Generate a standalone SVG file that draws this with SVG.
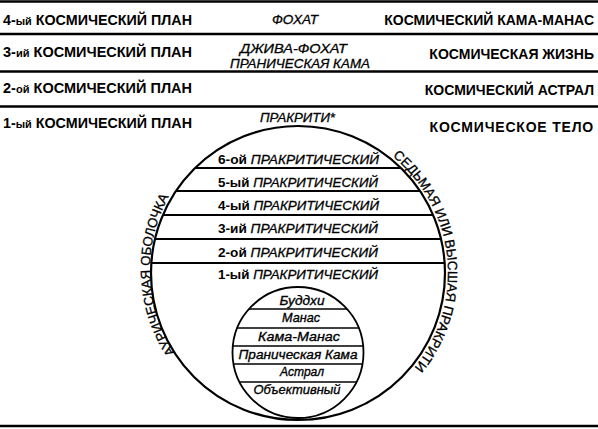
<svg xmlns="http://www.w3.org/2000/svg" width="598" height="429" viewBox="0 0 598 429">
<style>
.lbl{font-family:"Liberation Sans",Arial,sans-serif;font-size:15px;font-weight:bold;fill:#000}
.rl{font-family:"Liberation Sans",Arial,sans-serif;font-size:14px;font-weight:bold;fill:#000;text-anchor:end}
.sm{font-size:11.5px}
.it{font-family:"Liberation Sans",Arial,sans-serif;font-style:italic;font-size:13px;fill:#000;stroke:#000;stroke-width:0.3}
.band{font-family:"Liberation Sans",Arial,sans-serif;font-size:13.5px;fill:#000}
.up{font-style:normal;font-weight:bold}
.iti{font-style:italic;stroke:#000;stroke-width:0.3}
.inner{font-family:"Liberation Sans",Arial,sans-serif;font-style:italic;font-size:13.5px;fill:#000;stroke:#000;stroke-width:0.35;text-anchor:middle}
.arc{font-family:"Liberation Sans",Arial,sans-serif;font-size:13.5px;fill:#000;stroke:#000;stroke-width:0.3}
.rule{stroke:#000;stroke-width:2.5}
.ln{stroke:#000;stroke-width:2}
.iln{stroke:#000;stroke-width:1.6}
</style>
<defs>
<clipPath id="cBig"><circle cx="298" cy="273" r="147"/></clipPath>
<clipPath id="cSmall"><circle cx="298" cy="352.5" r="65.5"/></clipPath>
<path id="arcL" d="M175.2,352.5 A150,150 0 0 1 169.4,195.7"/>
<path id="arcR" d="M392.4,156.4 A150,150 0 0 1 412.9,369.4"/>
</defs>
<rect width="598" height="429" fill="#fff"/>
<g id="rules">
<line class="rule" x1="0" y1="1.5" x2="598" y2="1.5"/>
<line class="rule" x1="0" y1="34" x2="598" y2="34"/>
<line class="rule" x1="0" y1="71.5" x2="598" y2="71.5"/>
<line class="rule" x1="0" y1="106.5" x2="598" y2="106.5"/>
<line class="rule" x1="0" y1="426" x2="598" y2="426"/>
</g>
<g id="left-labels">
<text class="lbl" x="3" y="25" textLength="189" lengthAdjust="spacingAndGlyphs">4-<tspan class="sm">ый</tspan> КОСМИЧЕСКИЙ ПЛАН</text>
<text class="lbl" x="3" y="57" textLength="189" lengthAdjust="spacingAndGlyphs">3-<tspan class="sm">ий</tspan> КОСМИЧЕСКИЙ ПЛАН</text>
<text class="lbl" x="3" y="93" textLength="189" lengthAdjust="spacingAndGlyphs">2-<tspan class="sm">ой</tspan> КОСМИЧЕСКИЙ ПЛАН</text>
<text class="lbl" x="3" y="128" textLength="189" lengthAdjust="spacingAndGlyphs">1-<tspan class="sm">ый</tspan> КОСМИЧЕСКИЙ ПЛАН</text>
</g>
<g id="right-labels">
<text class="rl" x="594" y="25">КОСМИЧЕСКИЙ КАМА-МАНАС</text>
<text class="rl" x="594" y="59">КОСМИЧЕСКАЯ ЖИЗНЬ</text>
<text class="rl" x="594" y="95">КОСМИЧЕСКИЙ АСТРАЛ</text>
<text class="rl" x="594" y="132" letter-spacing="0.8">КОСМИЧЕСКОЕ ТЕЛО</text>
</g>
<g id="center-labels">
<text class="it" x="272" y="24" textLength="46" lengthAdjust="spacingAndGlyphs">ФОХАТ</text>
<text class="it" x="240" y="53" textLength="107" lengthAdjust="spacingAndGlyphs">ДЖИВА-ФОХАТ</text>
<text class="it" x="230" y="68" textLength="140" lengthAdjust="spacingAndGlyphs">ПРАНИЧЕСКАЯ  КАМА</text>
<text class="it" x="260" y="122" textLength="75" lengthAdjust="spacingAndGlyphs">ПРАКРИТИ*</text>
</g>
<g id="outer-circle">
<circle cx="298" cy="273" r="147" fill="none" stroke="#000" stroke-width="2.2"/>
<g clip-path="url(#cBig)">
<line class="ln" x1="140" y1="168" x2="460" y2="168"/>
<line class="ln" x1="140" y1="191" x2="460" y2="191"/>
<line class="ln" x1="140" y1="215" x2="460" y2="215"/>
<line class="ln" x1="140" y1="239" x2="460" y2="239"/>
<line class="ln" x1="140" y1="263" x2="460" y2="263"/>
</g>
<text class="band" x="218" y="164" textLength="161" lengthAdjust="spacingAndGlyphs"><tspan class="up">6-ой</tspan> <tspan class="iti">ПРАКРИТИЧЕСКИЙ</tspan></text>
<text class="band" x="218" y="187" textLength="160" lengthAdjust="spacingAndGlyphs"><tspan class="up">5-ый</tspan> <tspan class="iti">ПРАКРИТИЧЕСКИЙ</tspan></text>
<text class="band" x="218" y="210" textLength="161" lengthAdjust="spacingAndGlyphs"><tspan class="up">4-ый</tspan> <tspan class="iti">ПРАКРИТИЧЕСКИЙ</tspan></text>
<text class="band" x="218" y="233" textLength="160" lengthAdjust="spacingAndGlyphs"><tspan class="up">3-ий</tspan> <tspan class="iti">ПРАКРИТИЧЕСКИЙ</tspan></text>
<text class="band" x="218" y="257" textLength="160" lengthAdjust="spacingAndGlyphs"><tspan class="up">2-ой</tspan> <tspan class="iti">ПРАКРИТИЧЕСКИЙ</tspan></text>
<text class="band" x="218" y="279" textLength="160" lengthAdjust="spacingAndGlyphs"><tspan class="up">1-ый</tspan> <tspan class="iti">ПРАКРИТИЧЕСКИЙ</tspan></text>
<text class="arc"><textPath href="#arcL" textLength="164" lengthAdjust="spacingAndGlyphs">АУРИЧЕСКАЯ ОБОЛОЧКА</textPath></text>
<text class="arc"><textPath href="#arcR" textLength="236" lengthAdjust="spacingAndGlyphs">СЕДЬМАЯ ИЛИ ВЫСШАЯ ПРАКРИТИ</textPath></text>
</g>
<g id="inner-circle">
<circle cx="298" cy="352.5" r="65.5" fill="#fff" stroke="#000" stroke-width="1.8"/>
<g clip-path="url(#cSmall)">
<line class="iln" x1="228" y1="309" x2="368" y2="309"/>
<line class="iln" x1="228" y1="328" x2="368" y2="328"/>
<line class="iln" x1="228" y1="346" x2="368" y2="346"/>
<line class="iln" x1="228" y1="364" x2="368" y2="364"/>
<line class="iln" x1="228" y1="382" x2="368" y2="382"/>
</g>
<text class="inner" x="302" y="305" textLength="45" lengthAdjust="spacingAndGlyphs">Буддхи</text>
<text class="inner" x="301" y="322" textLength="38" lengthAdjust="spacingAndGlyphs">Манас</text>
<text class="inner" x="299" y="341" textLength="82" lengthAdjust="spacingAndGlyphs">Кама-Манас</text>
<text class="inner" x="298" y="359" textLength="119" lengthAdjust="spacingAndGlyphs">Праническая Кама</text>
<text class="inner" x="302" y="376" textLength="44" lengthAdjust="spacingAndGlyphs">Астрал</text>
<text class="inner" x="297" y="394" textLength="87" lengthAdjust="spacingAndGlyphs">Объективный</text>
</g>
</svg>
